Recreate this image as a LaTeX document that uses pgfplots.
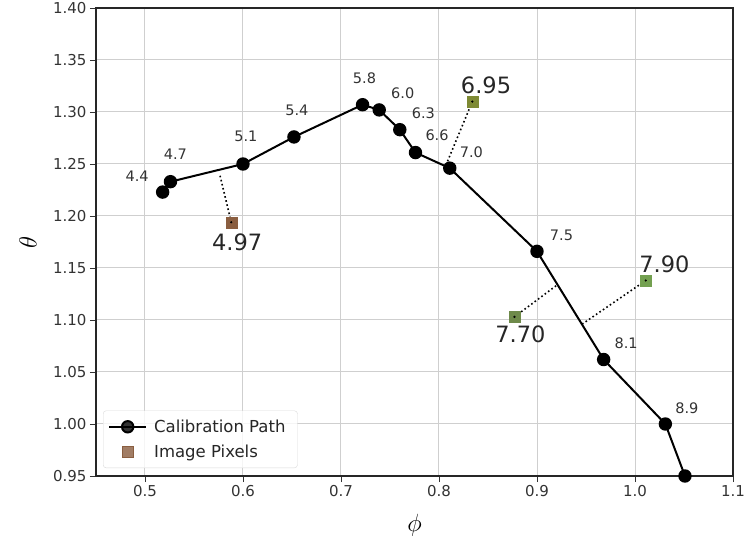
\documentclass[border=0pt]{standalone}
\usepackage{pgfplots}
\pgfplotsset{compat=1.18}
\usepackage{fontspec}
\setmainfont{DejaVu Sans}
\definecolor{pbrown}{HTML}{8A5E40}
\definecolor{polive}{HTML}{7E8A34}
\definecolor{pgreenA}{HTML}{6E8A4A}
\definecolor{pgreenB}{HTML}{73A050}
\pgfplotsset{
  longline legend/.style={legend image code/.code={\draw[mark repeat=2, mark phase=2, ##1] plot coordinates {(0cm,0cm) (0.65cm,0cm) (1.3cm,0cm)};}},
  centermark legend/.style={legend image code/.code={\draw[##1] plot coordinates {(0.65cm,0cm)};}},
}
\begin{document}
\begin{tikzpicture}
\useasboundingbox (-96pt,-70pt) rectangle (649pt,476pt);
\begin{axis}[
  at={(0,0)}, anchor=south west,
  scale only axis,
  width=637pt, height=468pt,
  xmin=0.45, xmax=1.1, ymin=0.95, ymax=1.40,
  xtick={0.5,0.6,...,1.1},
  ytick={0.95,1.00,...,1.40},
  xticklabels={0.5,0.6,0.7,0.8,0.9,1.0,1.1},
  yticklabels={0.95,1.00,1.05,1.10,1.15,1.20,1.25,1.30,1.35,1.40},
  /pgf/number format/assume math mode=true,
  tick label style={font=\fontsize{15}{17}\selectfont, text=black!80},
  tick align=outside, xtick pos=bottom, ytick pos=left,
  major tick length=6pt,
  tick style={black!80, line width=0.9pt},
  axis line style={black!85, line width=1.1pt},
  grid=major,
  major grid style={gray!38, line width=1pt},
  xlabel={\fontsize{27}{30}\selectfont $\phi$},
  ylabel={\fontsize{27}{30}\selectfont $\theta$},
  xlabel style={at={(axis description cs:0.5,0)}, anchor=center, yshift=-49pt},
  ylabel style={at={(axis description cs:0,0.5)}, anchor=center, yshift=68pt},
  legend style={at={(0.011,0.017)}, anchor=south west, draw=gray!30, rounded corners=3pt,
    font=\fontsize{16.5}{19}\selectfont, text=black!85, fill=white, fill opacity=0.8, text opacity=1,
    inner xsep=5pt, inner ysep=7pt, row sep=7pt,
    nodes={inner xsep=7pt}},
  legend cell align=left,
  clip=false,
]
% dotted connectors
\addplot[black, dash pattern=on 1.6pt off 2.6pt, line width=1.6pt, forget plot] coordinates {(0.588,1.194) (0.576,1.241)};
\addplot[black, dash pattern=on 1.6pt off 2.6pt, line width=1.6pt, forget plot] coordinates {(0.834,1.310) (0.808,1.251)};
\addplot[black, dash pattern=on 1.6pt off 2.6pt, line width=1.6pt, forget plot] coordinates {(0.877,1.103) (0.921,1.134)};
\addplot[black, dash pattern=on 1.6pt off 2.6pt, line width=1.6pt, forget plot] coordinates {(1.011,1.138) (0.946,1.096)};
% calibration path
\addplot[black, line width=2pt, mark=*, mark size=5.7pt, mark options={fill=black}, longline legend] coordinates {
(0.518,1.223) (0.526,1.233) (0.600,1.250) (0.652,1.276) (0.722,1.307) (0.739,1.302)
(0.760,1.283) (0.776,1.261) (0.811,1.246) (0.900,1.166) (0.968,1.062) (1.031,1.000) (1.051,0.950)};
\addlegendentry{Calibration Path}
% image pixels
\addplot[only marks, mark=square*, mark size=5.5pt, mark options={draw=pbrown, fill=pbrown}, centermark legend] coordinates {(0.588,1.194)};
\addlegendentry{Image Pixels}
\addplot[only marks, mark=square*, mark size=5.5pt, mark options={draw=polive, fill=polive}, forget plot] coordinates {(0.834,1.310)};
\addplot[only marks, mark=square*, mark size=5.5pt, mark options={draw=pgreenA, fill=pgreenA}, forget plot] coordinates {(0.877,1.103)};
\addplot[only marks, mark=square*, mark size=5.5pt, mark options={draw=pgreenB, fill=pgreenB}, forget plot] coordinates {(1.011,1.138)};
\addplot[only marks, mark=*, mark size=0.9pt, black, forget plot] coordinates {(0.588,1.194) (0.834,1.310) (0.877,1.103) (1.011,1.138)};
% labels
\begin{scope}[every node/.style={font=\fontsize{14.5}{16}\selectfont, text=black!80}]
\node at (axis cs:0.492,1.2385) {4.4};
\node at (axis cs:0.531,1.259) {4.7};
\node at (axis cs:0.603,1.277) {5.1};
\node at (axis cs:0.655,1.302) {5.4};
\node at (axis cs:0.724,1.332) {5.8};
\node at (axis cs:0.763,1.318) {6.0};
\node at (axis cs:0.784,1.299) {6.3};
\node at (axis cs:0.798,1.278) {6.6};
\node at (axis cs:0.833,1.261) {7.0};
\node at (axis cs:0.925,1.181) {7.5};
\node at (axis cs:0.991,1.078) {8.1};
\node at (axis cs:1.053,1.015) {8.9};
\end{scope}
\begin{scope}[every node/.style={font=\fontsize{22.5}{25}\selectfont, text=black!85}]
\node at (axis cs:0.594,1.175) {4.97};
\node at (axis cs:0.848,1.326) {6.95};
\node at (axis cs:0.883,1.086) {7.70};
\node at (axis cs:1.030,1.154) {7.90};
\end{scope}
\end{axis}
\end{tikzpicture}
\end{document}
